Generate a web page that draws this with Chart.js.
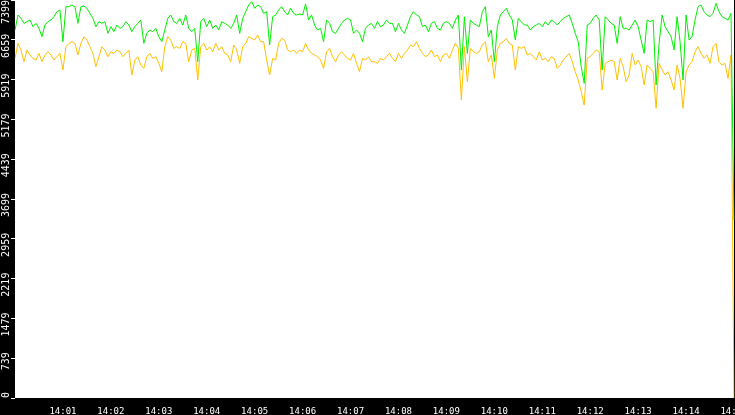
<!DOCTYPE html>
<html>
<head>
<meta charset="utf-8">
<script src="https://cdn.jsdelivr.net/npm/chart.js@4.4.1/dist/chart.umd.min.js"></script>
<style>
  html, body { margin: 0; padding: 0; background: #000; }
  #wrap { width: 735px; height: 415px; position: relative; }
</style>
</head>
<body>
<div id="wrap"><canvas id="c"></canvas></div>
<script>
// Time categories: 14:00:00 to 14:15:00 in 3.75 s steps (241 samples)
const startMinute = 0;
const stepSeconds = 3.75;
const sampleCount = 241;

// Y-axis tick values and labels
const yTickValues = [0, 739.9, 1479.8, 2219.7, 2959.6, 3699.5, 4439.4, 5179.3, 5919.2, 6659.1, 7399];
const yTickLabels = ['0', '739', '1479', '2219', '2959', '3699', '4439', '5179', '5919', '6659', '7399'];

// X-axis tick labels (one per minute)
const xTickLabels = ['14:01','14:02','14:03','14:04','14:05','14:06','14:07','14:08','14:09','14:10','14:11','14:12','14:13','14:14','14:15'];

// Green series
const greenSeries = [
  6841,7120,7058,6965,6996,7027,6903,6965,6872,6717,6934,6996,7027,7089,7182,7213,6624,7275,7275,7306,7275,6965,7275,7287,7244,7151,7058,6903,6996,6965,
  6996,6779,6903,6810,6934,6872,6903,6996,6934,6810,6903,6965,7027,6593,6779,6841,6810,6872,6717,6624,6841,7058,7120,6996,6965,7058,6934,7120,6872,6810,
  6872,6252,6996,7058,6903,7027,6872,6934,6841,6996,6965,6934,6872,6965,7120,6779,7058,7182,7306,7368,7244,7306,7275,7151,7182,6562,7089,7120,7213,7275,
  7182,7120,7244,7151,7120,7139,7120,7325,7027,7120,6934,6841,6872,6624,7027,6965,6810,6779,6872,6965,7027,7058,7027,6779,6841,6779,6624,6872,6934,6965,
  6872,6996,6903,6934,7027,6965,6965,6810,6965,6841,6779,6934,7089,7182,7120,7089,6903,6934,6810,6965,6996,6872,6841,6965,6996,6965,6872,7027,7120,6097,
  7089,6407,7027,6965,6934,6903,7182,7275,6717,6841,6252,6903,7120,7182,7244,7120,7027,6655,7058,6996,6934,6934,6841,6903,6934,6965,6903,6996,6934,7027,
  6996,6934,6996,7058,7089,7120,6965,6779,6624,6159,5849,6934,6965,7058,7120,7027,6097,7089,7027,6965,6934,6593,7089,6872,6872,6841,6934,7027,6903,6655,
  6407,7027,6996,7027,5818,6593,7120,6903,6810,6717,6469,7089,6624,5911,7120,6655,6717,7027,7275,7306,7182,7120,7089,7151,7337,7182,7089,7058,7027,7151,
  3300
];

// Yellow series
const yellowSeries = [
  6314,6593,6469,6252,6469,6376,6314,6283,6407,6252,6376,6438,6376,6283,6345,6407,6097,6531,6593,6624,6593,6376,6593,6717,6655,6531,6407,6159,6345,6531,
  6469,6345,6438,6407,6469,6438,6345,6407,6469,6004,6283,6345,6190,6128,6345,6407,6314,6345,6221,6066,6531,6717,6655,6500,6531,6500,6624,6593,6252,6469,
  6500,5911,6531,6593,6469,6531,6438,6593,6469,6531,6407,6376,6252,6562,6469,6221,6531,6593,6717,6686,6655,6748,6624,6624,6283,6004,6314,6283,6593,6686,
  6655,6469,6438,6469,6407,6469,6438,6593,6469,6407,6376,6345,6283,6128,6438,6500,6345,6252,6376,6438,6376,6314,6283,6407,6221,6066,6314,6283,6345,6252,
  6252,6221,6314,6283,6345,6407,6314,6252,6407,6314,6407,6469,6562,6531,6624,6500,6407,6345,6376,6469,6345,6376,6252,6376,6407,6314,6469,6593,6500,5539,
  6531,5880,6500,6438,6407,6438,6562,6624,6252,6376,5942,6469,6593,6624,6686,6593,6562,6097,6531,6500,6531,6376,6407,6345,6283,6438,6283,6314,6252,6345,
  6314,6128,6190,6283,6345,6407,6252,6066,5911,5694,5446,6314,6345,6407,6469,6438,5725,6221,6252,6283,6252,5911,6314,6159,5880,6004,6407,6190,6283,6159,
  5818,6190,6128,6066,5384,6221,6097,6004,6066,5911,5725,6190,5942,5384,6066,6190,6252,6438,6531,6407,6314,6376,6221,6531,6593,6252,6190,6221,5942,6376,
  0
];

const categories = [];
for (let i = 0; i < sampleCount; i++) {
  const s = Math.round(i * stepSeconds);
  const m = startMinute + Math.floor(s / 60);
  const sec = s % 60;
  categories.push('14:' + String(m).padStart(2, '0') + ':' + String(sec).padStart(2, '0'));
}
const samplesPerMinute = 16;
const isMinuteTick = (i) => i > 0 && i % samplesPerMinute === 0;

const bgPlugin = {
  id: 'bg',
  beforeDraw(chart) {
    const { ctx, chartArea: a, width, height } = chart;
    ctx.save();
    ctx.fillStyle = '#000';
    ctx.fillRect(0, 0, width, height);
    ctx.fillStyle = '#fff';
    ctx.fillRect(a.left, a.top, a.right - a.left, a.bottom - a.top);
    ctx.restore();
  }
};

new Chart(document.getElementById('c'), {
  type: 'line',
  data: {
    labels: categories,
    datasets: [
      { label: 'green', data: greenSeries, borderColor: '#00ee00', borderWidth: 1, pointRadius: 0, tension: 0, fill: false },
      { label: 'yellow', data: yellowSeries, borderColor: '#ffc000', borderWidth: 1, pointRadius: 0, tension: 0, fill: false }
    ]
  },
  options: {
    responsive: true,
    maintainAspectRatio: false,
    devicePixelRatio: 1,
    animation: false,
    layout: { padding: { left: 0, right: 1, top: 0, bottom: 0 } },
    plugins: { legend: { display: false }, tooltip: { enabled: false } },
    events: [],
    scales: {
      x: {
        type: 'category',
        offset: false,
        border: { display: false },
        grid: {
          drawOnChartArea: false,
          drawTicks: true,
          tickLength: 7,
          lineWidth: 1,
          color: (ctx) => isMinuteTick(ctx.index) ? '#ffffff' : 'rgba(0,0,0,0)',
          tickColor: (ctx) => isMinuteTick(ctx.index) ? '#ffffff' : 'rgba(0,0,0,0)'
        },
        ticks: {
          autoSkip: false,
          maxRotation: 0,
          minRotation: 0,
          padding: 1,
          color: '#ffffff',
          font: { family: 'DejaVu Sans Mono', size: 9 },
          callback: (v, i) => isMinuteTick(i) ? xTickLabels[i / samplesPerMinute - 1] : null
        },
        afterFit: (s) => { s.height = 17; s.paddingLeft = 0; s.paddingRight = 0; }
      },
      y: {
        type: 'linear',
        min: 0,
        max: 7399,
        border: { display: false },
        afterBuildTicks: (axis) => { axis.ticks = yTickValues.map(v => ({ value: v })); },
        grid: {
          drawOnChartArea: false,
          drawTicks: true,
          tickLength: 4,
          lineWidth: 1,
          color: '#ffffff'
        },
        ticks: {
          minRotation: 90,
          maxRotation: 90,
          padding: 5,
          labelOffset: -6,
          color: '#ffffff',
          font: { family: 'DejaVu Sans Mono', size: 10 },
          callback: (v, i) => i === yTickLabels.length - 1 ? yTickLabels[i] + ' ' : yTickLabels[i]
        },
        afterFit: (s) => { s.width = 15; s.paddingTop = 0; s.paddingBottom = 0; }
      }
    }
  },
  plugins: [bgPlugin]
});
</script>
</body>
</html>
